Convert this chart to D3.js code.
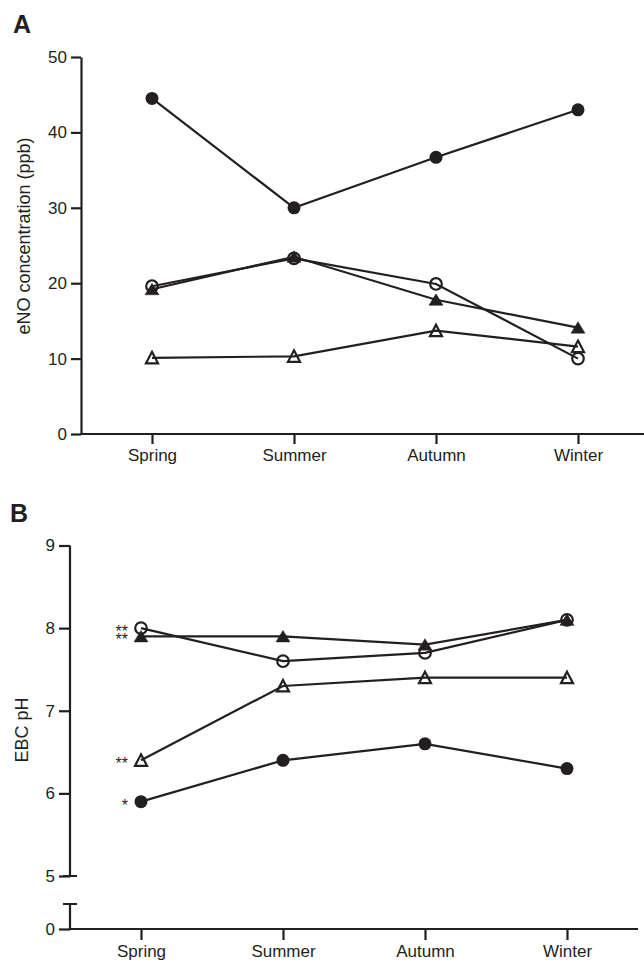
<!DOCTYPE html>
<html>
<head>
<meta charset="utf-8">
<script src="https://cdn.jsdelivr.net/npm/d3@7"></script>
<style>
  body { margin: 0; background: #fff; }
  svg { display: block; }
  text { font-family: Arial, "Liberation Sans", Helvetica, sans-serif; fill: #231f20; }
</style>
</head>
<body>
<div id="chart"></div>
<script>
var seasons = ["Spring", "Summer", "Autumn", "Winter"];

// panel A - eNO concentration (ppb)
var enoFilledCircle   = [44.5, 30.0, 36.7, 43.0];
var enoOpenCircle     = [19.6, 23.3, 19.9, 10.0];
var enoFilledTriangle = [19.2, 23.5, 17.8, 14.1];
var enoOpenTriangle   = [10.1, 10.3, 13.7, 11.6];
var enoTicks = [0, 10, 20, 30, 40, 50];

// panel B - EBC pH
var phFilledCircle   = [5.9, 6.4, 6.6, 6.3];
var phOpenCircle     = [8.0, 7.6, 7.7, 8.1];
var phFilledTriangle = [7.9, 7.9, 7.8, 8.1];
var phOpenTriangle   = [6.4, 7.3, 7.4, 7.4];
var phTicks = [0, 5, 6, 7, 8, 9];
var phSpringStars = ["*", "**", "**", "**"];

(function() {
  var ink = "#231f20";
  var svg = d3.select("#chart").append("svg")
    .attr("width", 644)
    .attr("height", 963);

  var markers = ["filledCircle", "openCircle", "filledTriangle", "openTriangle"];

  function drawMarker(g, kind, x, y) {
    if (kind.indexOf("Circle") > -1) {
      g.append("circle")
        .attr("cx", x).attr("cy", y)
        .attr("r", kind == "filledCircle" ? 6.5 : 5.8)
        .attr("fill", kind == "filledCircle" ? ink : "none")
        .attr("stroke", ink)
        .attr("stroke-width", kind == "filledCircle" ? 0 : 2.2);
    } else {
      var w = kind == "filledTriangle" ? 7 : 6, h = 6;
      g.append("path")
        .attr("d", "M" + x + "," + (y - h) + "L" + (x + w) + "," + (y + h - 0.5) + "L" + (x - w) + "," + (y + h - 0.5) + "Z")
        .attr("fill", kind == "filledTriangle" ? ink : "none")
        .attr("stroke", ink)
        .attr("stroke-width", kind == "filledTriangle" ? 0.5 : 2.2)
        .attr("stroke-linejoin", "miter");
    }
  }

  function drawSeries(g, x, y, series) {
    var line = d3.line()
      .x(function(d, i) { return x(seasons[i]); })
      .y(function(d) { return y(d); });
    series.forEach(function(s) {
      g.append("path")
        .datum(s)
        .attr("d", line)
        .attr("fill", "none")
        .attr("stroke", ink)
        .attr("stroke-width", 2.2);
    });
    series.forEach(function(s, k) {
      s.forEach(function(v, i) {
        drawMarker(g, markers[k], x(seasons[i]), y(v));
      });
    });
  }

  function styleAxis(a) {
    a.selectAll("path, line").attr("stroke", ink).attr("stroke-width", 2.2);
    a.selectAll("text").attr("font-size", "17px").attr("fill", ink);
  }

  // ---------- panel A ----------
  var xA = d3.scalePoint().domain(seasons).range([81, 649]).padding(0.5);
  var yA = d3.scaleLinear().domain([0, 50]).range([434, 57]);
  var gA = svg.append("g");

  gA.append("text").text("A")
    .attr("x", 13).attr("y", 33)
    .attr("font-size", "25px").attr("font-weight", "bold");

  var axA = gA.append("g")
    .attr("transform", "translate(81,0)")
    .call(d3.axisLeft(yA).tickValues(enoTicks).tickSize(10).tickPadding(4).tickSizeOuter(0));
  styleAxis(axA);

  var bxA = gA.append("g")
    .attr("transform", "translate(0,434)")
    .call(d3.axisBottom(xA).tickSize(10).tickPadding(5).tickSizeOuter(0));
  bxA.select(".domain").attr("d", "M81,0H649");
  styleAxis(bxA);

  gA.append("text")
    .text("eNO concentration (ppb)")
    .attr("transform", "translate(30,236) rotate(-90)")
    .attr("text-anchor", "middle")
    .attr("font-size", "18px");

  drawSeries(gA, xA, yA, [enoFilledCircle, enoOpenCircle, enoFilledTriangle, enoOpenTriangle]);

  // ---------- panel B ----------
  var xB = d3.scalePoint().domain(seasons).range([70, 638]).padding(0.5);
  var yB = d3.scaleLinear().domain([0, 5, 9]).range([929, 876, 545.5]);
  var gB = svg.append("g");

  gB.append("text").text("B")
    .attr("x", 10).attr("y", 522)
    .attr("font-size", "25px").attr("font-weight", "bold");

  var axB = gB.append("g")
    .attr("transform", "translate(70,0)")
    .call(d3.axisLeft(yB).tickValues(phTicks).tickSize(11).tickPadding(4).tickSizeOuter(0));
  axB.select(".domain").remove();
  styleAxis(axB);
  // broken y axis: 5..9 and 0..break
  var capTop = yB(0) - 25;
  axB.append("path")
    .attr("d", "M-7," + yB(5) + "H7M0," + yB(5) + "V" + yB(9) +
               "M-7," + capTop + "H7M0," + capTop + "V" + yB(0))
    .attr("fill", "none").attr("stroke", ink).attr("stroke-width", 2.2);

  var bxB = gB.append("g")
    .attr("transform", "translate(0," + yB(0) + ")")
    .call(d3.axisBottom(xB).tickSize(11).tickPadding(5).tickSizeOuter(0));
  bxB.select(".domain").attr("d", "M70,0H638");
  styleAxis(bxB);

  gB.append("text")
    .text("EBC pH")
    .attr("transform", "translate(28,730) rotate(-90)")
    .attr("text-anchor", "middle")
    .attr("font-size", "18px");

  var phSeries = [phFilledCircle, phOpenCircle, phFilledTriangle, phOpenTriangle];
  drawSeries(gB, xB, yB, phSeries);

  // significance stars at Spring; stars closer than a line apart share one text
  var starRows = phSeries.map(function(s, k) { return { y: yB(s[0]), t: phSpringStars[k] }; })
    .sort(function(a, b) { return a.y - b.y; });
  var groups = [];
  starRows.forEach(function(r) {
    var last = groups[groups.length - 1];
    if (last && r.y - last[last.length - 1].y < 14) last.push(r);
    else groups.push([r]);
  });
  groups.forEach(function(grp) {
    var t = gB.append("text")
      .attr("text-anchor", "end")
      .attr("font-size", "16px");
    grp.forEach(function(r) {
      t.append("tspan")
        .attr("x", xB(seasons[0]) - 13)
        .attr("y", r.y + 9)
        .text(r.t);
    });
  });
})();
</script>
</body>
</html>
